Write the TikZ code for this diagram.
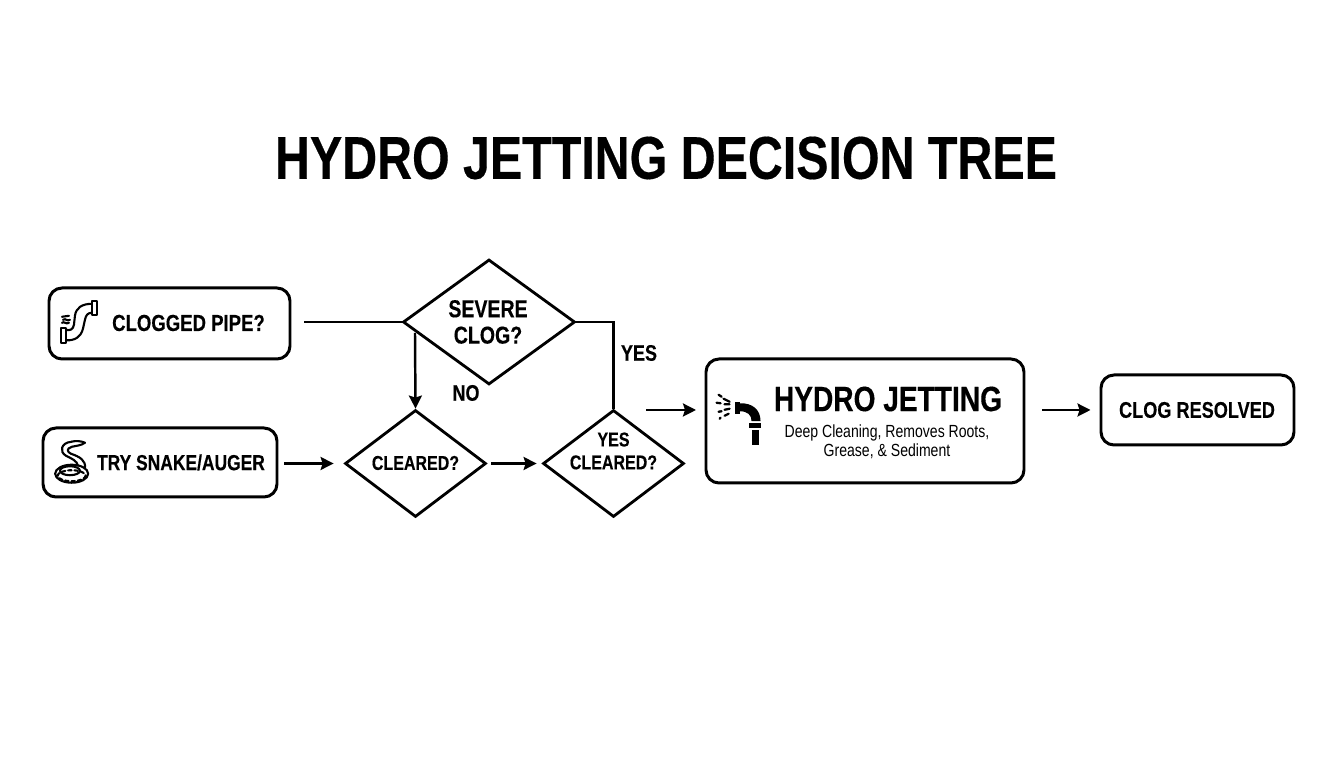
\documentclass[tikz,border=0pt]{standalone}
\usepackage{fontspec}
\setmainfont{Liberation Sans}
\newfontfamily\condfont[FakeStretch=0.8,BoldFeatures={FakeBold=0.3}]{Liberation Sans}
\usetikzlibrary{arrows.meta}
\usetikzlibrary{shapes.geometric}
\tikzset{
    box/.style={draw, line width=0.85pt, rounded corners=1.3mm, inner sep=0pt},
    decision/.style={draw, diamond, line width=0.8pt, inner sep=0pt, align=center},
    flow/.style={line width=0.7pt, -{Stealth[length=1.3mm,width=1.3mm,inset=0.2mm]}},
    wire/.style={line width=0.7pt},
    boxtext/.style={font=\condfont\bfseries\fontsize{6.6}{8}\selectfont},
    cleartext/.style={align=center, font=\condfont\bfseries\fontsize{5.7}{6.5}\selectfont},
    icon/.style={line width=0.6pt, line cap=round, line join=round}
}
\begin{document}
\begin{tikzpicture}[scale=1.0]
    \useasboundingbox (0, 0) rectangle (13.44, 7.68);

    \node[font=\condfont\bfseries\fontsize{17.2}{18}\selectfont] (title) at (6.66, 6.1) {HYDRO JETTING DECISION TREE};

    % boxes
    \node[box, minimum width=2.41cm, minimum height=0.71cm] (clog) at (1.695, 4.445) {};
    \node[box, minimum width=2.34cm, minimum height=0.69cm] (snake) at (1.6, 3.055) {};
    \node[box, minimum width=3.18cm, minimum height=1.24cm] (hydro) at (8.65, 3.47) {};
    \node[box, minimum width=1.93cm, minimum height=0.70cm] (resolved) at (11.975, 3.58) {};

    \node[boxtext] (cloglabel) at (1.885, 4.45) {CLOGGED PIPE?};
    \node[boxtext, font=\condfont\bfseries\fontsize{6.2}{8}\selectfont] (snakelabel) at (1.81, 3.055) {TRY SNAKE/AUGER};
    \node[boxtext, font=\condfont\bfseries\fontsize{6.45}{8}\selectfont] (resolvedlabel) at (11.97, 3.58) {CLOG RESOLVED};
    \node[font=\condfont\bfseries\fontsize{10}{12}\selectfont] (hydrolabel) at (8.88, 3.69) {HYDRO JETTING};
    \node[align=center, font=\condfont\fontsize{5}{5.4}\selectfont] (hydrotext) at (8.87, 3.26) {Deep Cleaning, Removes Roots,\\Grease, \& Sediment};

    % diamonds
    \node[decision, minimum width=1.72cm, minimum height=1.25cm, shape aspect=1.376] (severe) at (4.89, 4.46) {};
    \node[align=center, font=\condfont\bfseries\fontsize{6.95}{7.5}\selectfont] (severelabel) at (4.88, 4.46) {SEVERE\\CLOG?};
    \node[decision, minimum width=1.41cm, minimum height=1.07cm, shape aspect=1.318] (cleared) at (4.155, 3.045) {};
    \node[cleartext] (clearedlabel) at (4.155, 3.05) {CLEARED?};
    \node[decision, minimum width=1.41cm, minimum height=1.07cm, shape aspect=1.318] (clearedtwo) at (6.135, 3.045) {};
    \node[cleartext] (clearedtwolabel) at (6.135, 3.17) {YES\\CLEARED?};

    % connectors
    \coordinate (nostart) at (4.15, 4.35);
    \coordinate (jetin) at (6.46, 3.58);
    \coordinate (jetend) at (6.96, 3.58);
    \draw[wire, shorten <=0.13cm] (clog.east |- severe.west) -- (severe.west);
    \draw[flow] (nostart) -- (cleared.north);
    \draw[wire] (severe.east) -| (clearedtwo.north);
    \draw[flow, shorten <=0.06cm, shorten >=0.1cm] (snake.east |- cleared.west) -- (cleared.west);
    \draw[flow, shorten <=0.04cm, shorten >=0.05cm] (cleared.east) -- (clearedtwo.west);
    \draw[flow] (jetin) -- (jetend);
    \draw[flow, shorten <=0.17cm, shorten >=0.09cm] (hydro.east |- resolved.west) -- (resolved.west);

    \node[font=\condfont\bfseries\fontsize{6.4}{8}\selectfont] (yeslabel) at (6.39, 4.15) {YES};
    \node[font=\condfont\bfseries\fontsize{6.4}{8}\selectfont] (nolabel) at (4.66, 3.75) {NO};

    % pipe icon
    \begin{scope}[shift={(0,7.68)}, x=0.01cm, y=-0.01cm, icon]
        \draw (92, 301) rectangle (97, 315);
        \draw (61, 328) rectangle (66, 343);
        \draw (92, 304) .. controls (82, 304) and (76, 308) .. (75, 316) -- (74, 325) .. controls (73, 330) and (70, 331) .. (66, 330);
        \draw (92, 313) .. controls (88, 313) and (86, 315) .. (85, 320) -- (83, 329) .. controls (81, 337) and (75, 341) .. (66, 340.5);
        \draw (62, 317) .. controls (64, 315) and (66, 318) .. (69, 316);
        \draw (63, 320) .. controls (66, 318) and (67, 322) .. (70, 320);
        \draw (62, 323) .. controls (64, 321) and (66, 325) .. (69, 323);
    \end{scope}

    % snake icon
    \begin{scope}[shift={(0,7.68)}, x=0.01cm, y=-0.01cm, icon]
        \draw (71.5, 442) .. controls (75, 441) and (81, 441) .. (85, 443);
        \draw (71.5, 442) .. controls (61, 443) and (59, 452) .. (66, 456) .. controls (72, 459) and (77, 461) .. (78, 466);
        \draw (85, 443) .. controls (81, 446) and (76, 446) .. (72, 447) .. controls (66, 449) and (67, 452) .. (71, 454) .. controls (80, 457) and (86, 461) .. (85, 468);
        \draw (71.7, 474) ellipse (16.5 and 9);
        \draw (70, 471) ellipse (10 and 4.5);
        \draw[dash pattern=on 1pt off 0.8pt] (71.7, 476) ellipse (14 and 5.5);
    \end{scope}

    % spray icon
    \begin{scope}[shift={(0,7.68)}, x=0.01cm, y=-0.01cm, icon]
        \fill (735, 402) rectangle (740, 414);
        \fill (740, 403.5) .. controls (753, 403) and (761, 410) .. (761, 421.5) -- (752, 421.5) .. controls (752, 415) and (748, 411.5) .. (740, 411.5) -- cycle;
        \fill (749, 423) rectangle (761.5, 428);
        \fill (752, 430) rectangle (759.5, 445);
        \draw[line width=0.65pt] (719, 395) -- (722, 397) (724, 399) -- (730, 402) (717, 403) -- (721, 403.5) (725, 404.5) -- (730, 404.5) (719, 412) -- (722, 411.5) (725, 410) -- (730, 409) (720, 419) -- (721, 418) (725, 416) -- (729, 414);
    \end{scope}
\end{tikzpicture}
\end{document}
